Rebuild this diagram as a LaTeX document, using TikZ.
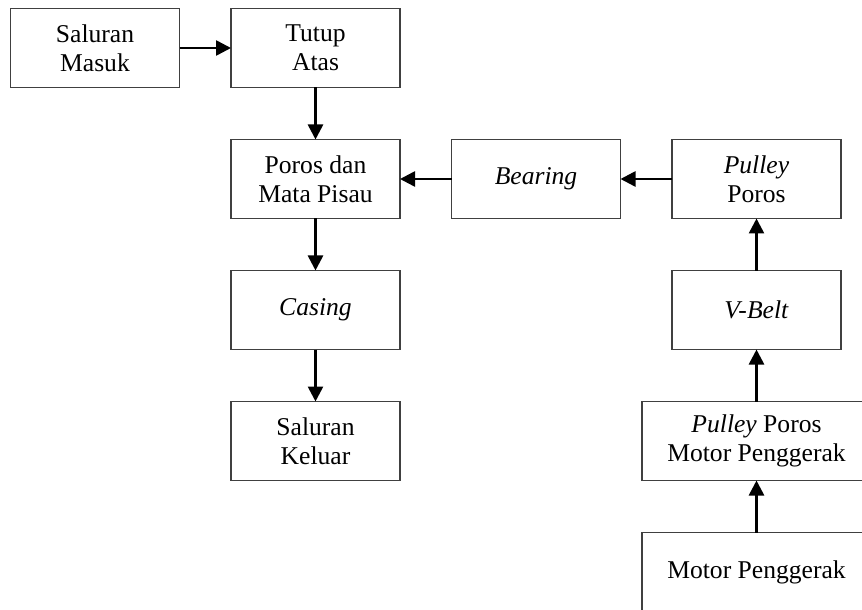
\documentclass[tikz,border=0pt]{standalone}
\usepackage{fontspec}
\setmainfont{Liberation Serif}
\usetikzlibrary{positioning, arrows.meta}
\tikzset{blok/.style={rectangle, draw=black!75, line width=0.6pt, align=center, minimum width=84.5pt, minimum height=39.5pt, inner sep=0pt, outer sep=0pt, font=\fontsize{12.8}{14.5}\selectfont},
         lebar/.style={blok, minimum width=114.5pt}}

\begin{document}
\begin{tikzpicture}[alir/.style={draw, line width=1.3pt, -{Triangle[length=7.5pt,width=7.5pt]}}, node distance=26pt and 25.75pt]

    \useasboundingbox (-47.5pt,24pt) rectangle (383.5pt,-281pt);

    \node[blok] (masuk) at (0,0) {Saluran\\Masuk};
    \node[blok, right=of masuk] (tutup) {Tutup\\Atas};
    \node[blok, below=of tutup] (poros) {Poros dan\\Mata Pisau};
    \node[blok, right=of poros] (bearing) {\textit{Bearing}};
    \node[blok, right=of bearing] (pulley) {\textit{Pulley}\\Poros};

    \node[blok, below=of poros] (casing) {\textit{Casing}};
    \node[blok, below=of casing] (keluar) {Saluran\\Keluar};

    \node[blok, below=of pulley] (vbelt) {\textit{V-Belt}};
    \node[lebar, below=of vbelt] (pulleymotor) {\textit{Pulley} Poros\\Motor Penggerak};
    \node[lebar, below=of pulleymotor] (motor) {Motor Penggerak};

    \draw [alir] (masuk) -- (tutup);
    \draw [alir] (tutup) -- (poros);
    \draw [alir] (poros) -- (casing);
    \draw [alir] (casing) -- (keluar);
    \draw [alir] (bearing) -- (poros);
    \draw [alir] (pulley) -- (bearing);
    \draw [alir] (vbelt) -- (pulley);
    \draw [alir] (pulleymotor) -- (vbelt);
    \draw [alir] (motor) -- (pulleymotor);

    \end{tikzpicture}
\end{document}
